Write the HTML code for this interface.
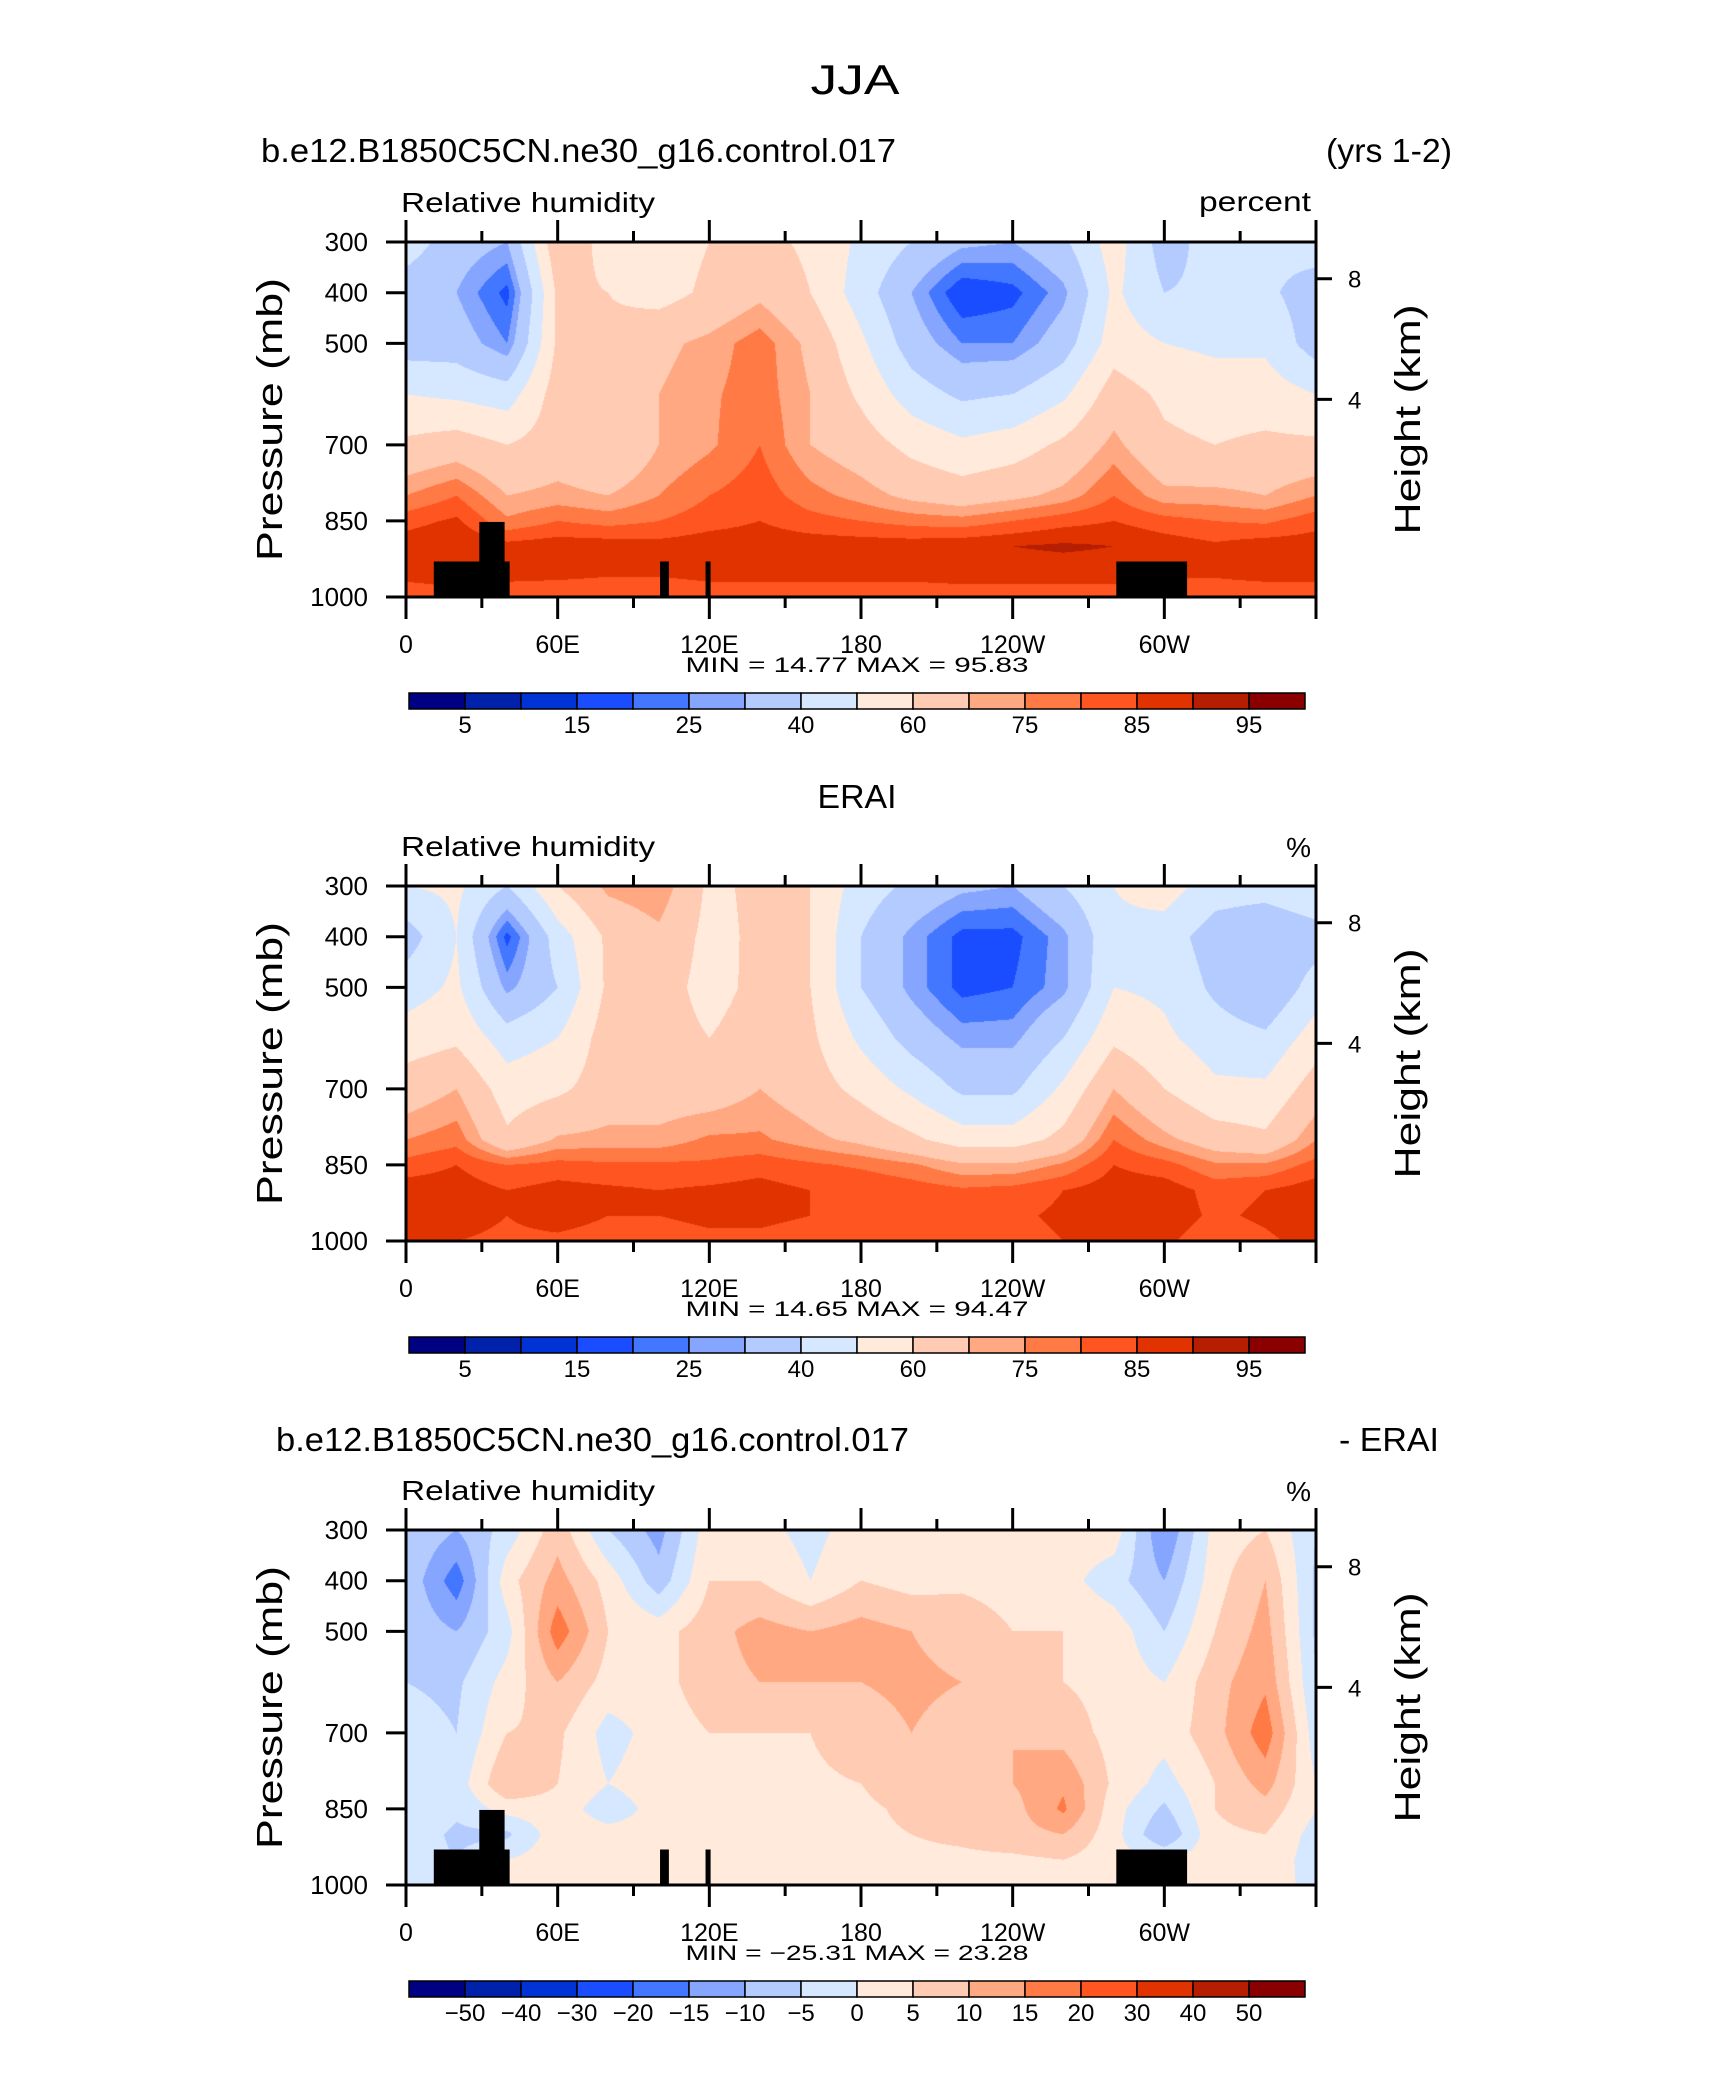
<!DOCTYPE html>
<html><head><meta charset="utf-8">
<style>
html,body{margin:0;padding:0;background:#fff;}
#root{position:relative;width:1710px;height:2074px;overflow:hidden;background:#fff;font-family:"Liberation Sans",sans-serif;}
canvas{position:absolute;}
svg{position:absolute;left:0;top:0;}
</style></head>
<body>
<div id="root">
<svg id="svg" width="1710" height="2074"></svg>
</div>
<script>
// ---- data ----
const lons=[0,20,40,60,80,100,120,140,160,180,200,220,240,260,280,300,320,340,360];
const levels=[300,400,500,600,700,800,850,900,950,1000];
// each row: one longitude column, values at levels 300..1000
const modelRH=[
[45,35,35,50,62,75,83,88,87,82],
[35,30,35,48,65,80,86,90,87,84],
[30,18,25,45,60,70,76,87,87,82],
[68,62,62,65,65,72,80,88,87,81],
[56,60,62,62,60,70,78,88,86,81],
[55,56,68,70,70,75,80,87,86,81],
[60,62,72,74,74,80,83,88,87,82],
[63,68,78,78,80,83,85,88,87,82],
[58,60,68,70,70,77,82,88,87,82],
[48,45,52,58,65,73,80,88,87,82],
[40,30,35,45,57,68,78,88,87,82],
[32,15,25,38,52,65,77,89,87,83],
[30,18,25,40,55,68,80,90,87,83],
[38,28,35,48,62,72,83,91,87,83],
[55,52,55,65,72,80,85,90,87,83],
[35,40,50,58,62,72,82,88,86,82],
[45,42,48,55,60,72,80,86,86,82],
[42,42,48,55,62,70,79,88,87,82],
[45,35,35,50,62,75,83,88,87,82]];
const eraRH=[
[50,35,45,55,65,75,82,88,89,87],
[52,50,52,58,70,78,85,88,87,85],
[40,18,28,45,55,62,80,85,85,84],
[60,45,40,50,58,71,82,87,87,84],
[72,62,62,65,65,72,81,86,85,83],
[75,68,65,65,65,72,81,85,85,83],
[58,57,56,60,65,76,81,86,86,84],
[62,62,63,65,70,76,83,87,86,84],
[60,60,60,62,65,72,81,85,85,83],
[45,40,40,48,57,68,79,85,84,83],
[38,28,28,36,48,62,76,83,84,82],
[32,18,18,28,38,55,71,81,83,82],
[30,18,20,28,38,55,71,82,84,83],
[40,28,28,40,52,63,76,85,86,85],
[50,48,50,58,70,80,85,88,87,86],
[55,45,48,52,60,72,82,88,88,86],
[45,35,38,45,52,65,76,83,84,82],
[45,30,30,42,52,62,76,85,86,84],
[50,35,45,55,65,75,82,88,89,87]];
const diffRH=[
[-5,-6,-6,-5,-3,0,0,-2,-3,-2],
[-10,-18,-10,-6,-5,-3,-4,-6,-5,-3],
[-3,3,-2,2,5,10,2,-6,0,0],
[8,12,18,10,6,5,3,3,3,2],
[-5,3,5,3,-2,0,-3,2,2,2],
[-12,-8,3,3,2,3,2,2,2,0],
[3,5,8,8,5,3,2,3,3,3],
[2,5,12,10,5,3,2,3,3,3],
[-2,0,10,10,5,4,3,4,3,3],
[3,5,12,10,8,5,4,4,3,3],
[3,3,10,11,10,8,6,5,4,3],
[3,4,8,10,8,10,8,6,4,3],
[3,3,5,8,10,10,8,8,4,3],
[3,2,5,5,8,14,16,10,5,3],
[3,-3,3,3,3,4,2,2,2,2],
[-15,-10,-5,0,2,-2,-6,-10,0,0],
[2,3,5,8,8,5,5,4,3,3],
[5,10,12,14,18,12,8,5,4,3],
[-5,-6,-6,-5,-3,0,0,-2,-3,-2]];
const rhBounds=[5,10,15,20,25,30,40,50,60,70,75,80,85,90,95];
const rhTickLabels=["5","15","25","40","60","75","85","95"];
const diffBounds=[-50,-40,-30,-20,-15,-10,-5,0,5,10,15,20,30,40,50];
const diffTickLabels=["-50","-40","-30","-20","-15","-10","-5","0","5","10","15","20","30","40","50"];
const colors=["#000082","#0022aa","#0033d6","#1a4dff","#4477ff","#85a5ff","#b4cbff","#d6e8ff","#ffeadb","#ffcbb3","#ffa882","#ff7a45","#ff5520","#e03300","#b51e00","#8a0000"];
// terrain blocks: [lon0, lon1, top pressure]
const terrainLon0=[11,29,100.5,118.5,281];
const terrainLon1=[41,39,104,120.5,309];
const terrainTop=[930,852,930,930,930];
const xTickLabels=["0","60E","120E","180","120W","60W"];
const pTicks=[300,400,500,700,850,1000];
const hTicks=[8,4];

// ---- layout ----
const PL=406, PW=910, PH=355;
const panelTops=[242,886,1530];
const svg=document.getElementById('svg');
const root=document.getElementById('root');
const NS="http://www.w3.org/2000/svg";
function xOf(lon){return PL+lon/360*PW;}
function yOf(p,top){return top+(p-300)/700*PH;}
function mk(tag,attrs,parent){const e=document.createElementNS(NS,tag);for(const k in attrs)e.setAttribute(k,attrs[k]);(parent||svg).appendChild(e);return e;}
function txt(s,x,y,size,anchor,parent,len){const a={x:x,y:y,'font-size':size,'text-anchor':anchor||'start','font-family':'Liberation Sans, sans-serif',fill:'#000'};if(len){a.textLength=len;a.lengthAdjust='spacingAndGlyphs';}const t=mk('text',a,parent);t.textContent=s;return t;}
function colorIdx(v,b){let i=0;while(i<b.length&&v>=b[i])i++;return i;}
function hex(c){return [parseInt(c.substr(1,2),16),parseInt(c.substr(3,2),16),parseInt(c.substr(5,2),16)];}
const rgb=colors.map(hex);

function drawField(data,bounds,top,name){
  const cv=document.createElement('canvas');
  cv.width=PW;cv.height=PH;
  cv.style.left=PL+'px';cv.style.top=top+'px';
  
  
  root.insertBefore(cv,svg);
  const ctx=cv.getContext('2d');
  const img=ctx.createImageData(PW,PH);
  for(let px=0;px<PW;px++){
    const lon=(px+0.5)/PW*360;
    let i=0;while(i<lons.length-2&&lon>lons[i+1])i++;
    const fx=(lon-lons[i])/(lons[i+1]-lons[i]);
    for(let py=0;py<PH;py++){
      const p=300+(py+0.5)/PH*700;
      let j=0;while(j<levels.length-2&&p>levels[j+1])j++;
      const fy=(p-levels[j])/(levels[j+1]-levels[j]);
      const v=(data[i][j]*(1-fx)+data[i+1][j]*fx)*(1-fy)+(data[i][j+1]*(1-fx)+data[i+1][j+1]*fx)*fy;
      const c=rgb[colorIdx(v,bounds)];
      const o=(py*PW+px)*4;
      img.data[o]=c[0];img.data[o+1]=c[1];img.data[o+2]=c[2];img.data[o+3]=255;
    }
  }
  ctx.putImageData(img,0,0);
}

function drawAxes(top,k,withTerrain){
  const g=mk('g',{});
  
  
  if(withTerrain){
    for(let t=0;t<terrainLon0.length;t++){
      const r=mk('rect',{x:xOf(terrainLon0[t]),y:yOf(terrainTop[t],top),width:xOf(terrainLon1[t])-xOf(terrainLon0[t]),height:yOf(1000,top)-yOf(terrainTop[t],top),fill:'#000'},g);
      
      
    }
  }
  const frame=mk('rect',{x:PL,y:top,width:PW,height:PH,fill:'none',stroke:'#000','stroke-width':3},g);
  
  
  for(let lon=0;lon<=360;lon+=30){
    const major=lon%60===0, x=xOf(lon);
    const len=major?22:11;
    mk('line',{x1:x,y1:top,x2:x,y2:top-len,stroke:'#000','stroke-width':3},g);
    mk('line',{x1:x,y1:top+PH,x2:x,y2:top+PH+len,stroke:'#000','stroke-width':3},g);
  }
  xTickLabels.forEach((s,i)=>{
    const t=txt(s,xOf(i*60),top+PH+56,25,'middle',g);
    
    
  });
  pTicks.forEach(p=>{
    const y=yOf(p,top);
    mk('line',{x1:PL,y1:y,x2:PL-20,y2:y,stroke:'#000','stroke-width':3},g);
    const t=txt(String(p),368,y+9,26,'end',g);
    
    
  });
  hTicks.forEach(h=>{
    const p=1000*Math.exp(-h/8.1);
    const y=yOf(p,top);
    mk('line',{x1:PL+PW,y1:y,x2:PL+PW+16,y2:y,stroke:'#000','stroke-width':3},g);
    const t=txt(String(h),PL+PW+32,y+9,24,'start',g);
    
    
  });
  const yl=txt('Pressure  (mb)',0,0,36,'middle',g,283);
  yl.setAttribute('transform','translate(282,'+(top+PH/2)+') rotate(-90)');
  
  
  const hl=txt('Height  (km)',0,0,36,'middle',g,230);
  hl.setAttribute('transform','translate(1420,'+(top+PH/2)+') rotate(-90)');
  
  
  const rh=txt('Relative  humidity',PL-5,top-30,28,'start',g,254);
  
  
}

function drawColorbar(y,bounds,labels,everyOther,k){
  const g=mk('g',{});
  
  
  const x0=409,w=56;
  for(let i=0;i<colors.length;i++){
    const r=mk('rect',{x:x0+i*w,y:y,width:w,height:16,fill:colors[i],stroke:'#000','stroke-width':1.5},g);
    
    
  }
  labels.forEach((s,i)=>{
    const b=everyOther?(2*i+1):(i+1);
    const t=txt(s.replace('-','\u2212'),x0+b*w,y+40,24,'middle',g);
    
    
  });
}

drawField(modelRH,rhBounds,panelTops[0],'contour-field-model');
drawField(eraRH,rhBounds,panelTops[1],'contour-field-erai');
drawField(diffRH,diffBounds,panelTops[2],'contour-field-difference');
drawAxes(panelTops[0],1,true);
drawAxes(panelTops[1],2,false);
drawAxes(panelTops[2],3,true);
drawColorbar(693,rhBounds,rhTickLabels,true,1);
drawColorbar(1337,rhBounds,rhTickLabels,true,2);
drawColorbar(1981,diffBounds,diffTickLabels,false,3);

function label(s,x,y,size,anchor,name,len){const t=txt(s,x,y,size,anchor,null,len);return t;}
label('JJA',855,94,42,'middle','figure-title',89);
label('b.e12.B1850C5CN.ne30_g16.control.017',261,162,33,'start','panel1-title',635);
label('(yrs 1-2)',1452,162,33,'end','panel1-years',126);
label('percent',1311,211,28,'end','panel1-units',112);
label('MIN =   14.77   MAX =   95.83',857,672,21,'middle','panel1-minmax',343);
label('ERAI',857,808,33,'middle','panel2-title',79);
label('%',1311,857,28,'end','panel2-units');
label('MIN =   14.65   MAX =   94.47',857,1316,21,'middle','panel2-minmax',343);
label('b.e12.B1850C5CN.ne30_g16.control.017',276,1451,33,'start','panel3-title',633);
label('- ERAI',1439,1451,33,'end','panel3-subtitle',100);
label('%',1311,1501,28,'end','panel3-units');
label('MIN = \u221225.31   MAX =   23.28',857,1960,21,'middle','panel3-minmax',343);
</script>
</body></html>
